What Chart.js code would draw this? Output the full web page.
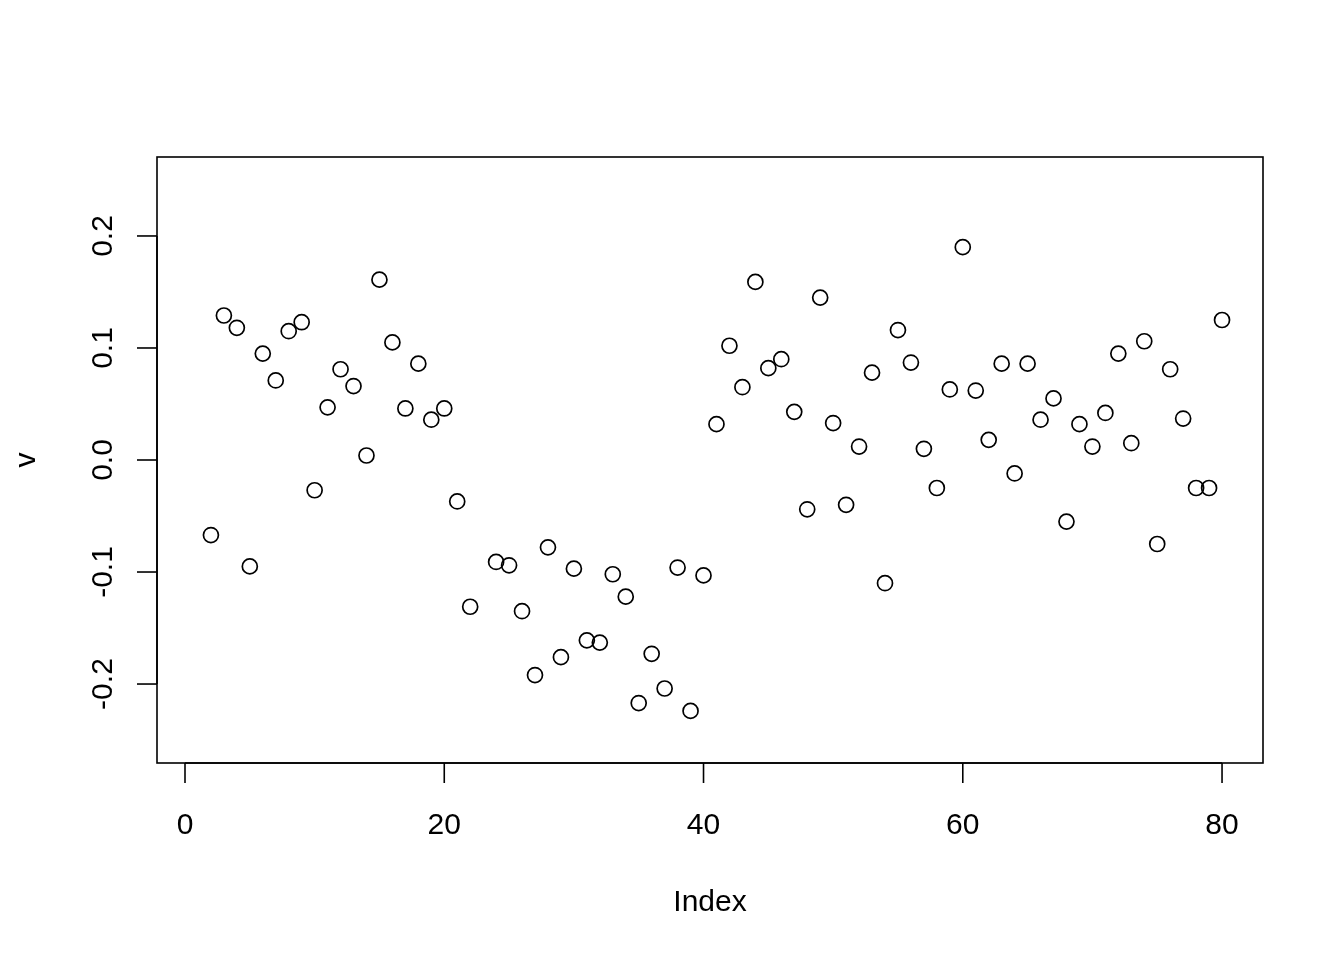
<!DOCTYPE html>
<html>
<head>
<meta charset="utf-8">
<script src="https://cdn.jsdelivr.net/npm/chart.js@4.4.0/dist/chart.umd.min.js"></script>
<style>
  html, body { margin: 0; padding: 0; background: #fff; }
  #wrap { width: 1344px; height: 960px; }
</style>
</head>
<body>
<div id="wrap"><canvas id="c" width="1344" height="960"></canvas></div>
<script>
// ─── Data ─────────────────────────────────────────────────────────────────────

// v[i] for Index 1..80 (null = not plotted)
const V = [
  null, -0.067,  0.129,  0.118, -0.095,  0.095,  0.071,  0.115,  0.123, -0.027,
  0.047,  0.081,  0.066,  0.004,  0.161,  0.105,  0.046,  0.086,  0.036,  0.046,
  -0.037, -0.131,  null, -0.091, -0.094, -0.135, -0.192, -0.078, -0.176, -0.097,
  -0.161, -0.163, -0.102, -0.122, -0.217, -0.173, -0.204, -0.096, -0.224, -0.103,
  0.032,  0.102,  0.065,  0.159,  0.082,  0.090,  0.043, -0.044,  0.145,  0.033,
  -0.040,  0.012,  0.078, -0.110,  0.116,  0.087,  0.010, -0.025,  0.063,  0.190,
  0.062,  0.018,  0.086, -0.012,  0.086,  0.036,  0.055, -0.055,  0.032,  0.012,
  0.042,  0.095,  0.015,  0.106, -0.075,  0.081,  0.037, -0.025, -0.025,  0.125,
];
const INDEX = V.map((_, i) => i + 1);

const X_TICKS = [0, 20, 40, 60, 80];
const Y_TICKS = [-0.2, -0.1, 0.0, 0.1, 0.2];
const Y_TICK_LABELS = ["-0.2", "-0.1", "0.0", "0.1", "0.2"];
const X_TITLE = "Index";
const Y_TITLE = "v";

// ─── Style ────────────────────────────────────────────────────────────────────

const FONT = "'Liberation Sans', Arial, Helvetica, sans-serif";
const INK  = "#000";

// ─── R-style axes ─────────────────────────────────────────────────────────────

const rAxes = {
  id: "rAxes",
  afterDraw(chart) {
    const { ctx, chartArea: a, scales: { x, y } } = chart;
    ctx.save();
    ctx.strokeStyle = INK;
    ctx.fillStyle = INK;
    ctx.lineWidth = 1.6;

    // box
    ctx.strokeRect(a.left, a.top, a.right - a.left, a.bottom - a.top);

    // x axis
    const x0 = x.getPixelForValue(X_TICKS[0]);
    const x1 = x.getPixelForValue(X_TICKS[X_TICKS.length - 1]);
    ctx.beginPath();
    ctx.moveTo(x0, a.bottom);
    ctx.lineTo(x1, a.bottom);
    ctx.stroke();
    ctx.font = `30px ${FONT}`;
    ctx.textAlign = "center";
    ctx.textBaseline = "alphabetic";
    X_TICKS.forEach((t) => {
      const px = x.getPixelForValue(t);
      ctx.beginPath();
      ctx.moveTo(px, a.bottom);
      ctx.lineTo(px, a.bottom + 20);
      ctx.stroke();
      ctx.fillText(String(t), px, 834);
    });
    ctx.fillText(X_TITLE, (a.left + a.right) / 2, 911);

    // y axis
    const y0 = y.getPixelForValue(Y_TICKS[0]);
    const y1 = y.getPixelForValue(Y_TICKS[Y_TICKS.length - 1]);
    ctx.beginPath();
    ctx.moveTo(a.left, y0);
    ctx.lineTo(a.left, y1);
    ctx.stroke();
    Y_TICKS.forEach((t, i) => {
      const py = y.getPixelForValue(t);
      ctx.beginPath();
      ctx.moveTo(a.left, py);
      ctx.lineTo(a.left - 20, py);
      ctx.stroke();
      ctx.save();
      ctx.translate(112, py);
      ctx.rotate(-Math.PI / 2);
      ctx.fillText(Y_TICK_LABELS[i], 0, 0);
      ctx.restore();
    });
    ctx.save();
    ctx.translate(35, (a.top + a.bottom) / 2);
    ctx.rotate(-Math.PI / 2);
    ctx.fillText(Y_TITLE, 0, 0);
    ctx.restore();

    ctx.restore();
  },
};

// ─── Chart ────────────────────────────────────────────────────────────────────

const points = INDEX
  .map((i, k) => ({ x: i, y: V[k] }))
  .filter((p) => p.y !== null);

new Chart(document.getElementById("c"), {
  type: "scatter",
  data: {
    datasets: [{
      data: points,
      pointStyle: "circle",
      pointRadius: 7.5,
      pointHoverRadius: 7.5,
      pointBorderWidth: 1.7,
      pointBorderColor: INK,
      pointBackgroundColor: "rgba(0,0,0,0)",
    }],
  },
  options: {
    responsive: false,
    animation: false,
    devicePixelRatio: 1,
    layout: { padding: { left: 157, right: 81, top: 157, bottom: 197 } },
    plugins: { legend: { display: false }, tooltip: { enabled: false } },
    scales: {
      x: { type: "linear", min: -2.16, max: 83.16, display: false },
      y: { type: "linear", min: -0.2705, max: 0.2705, display: false },
    },
  },
  plugins: [rAxes],
});
</script>
</body>
</html>
